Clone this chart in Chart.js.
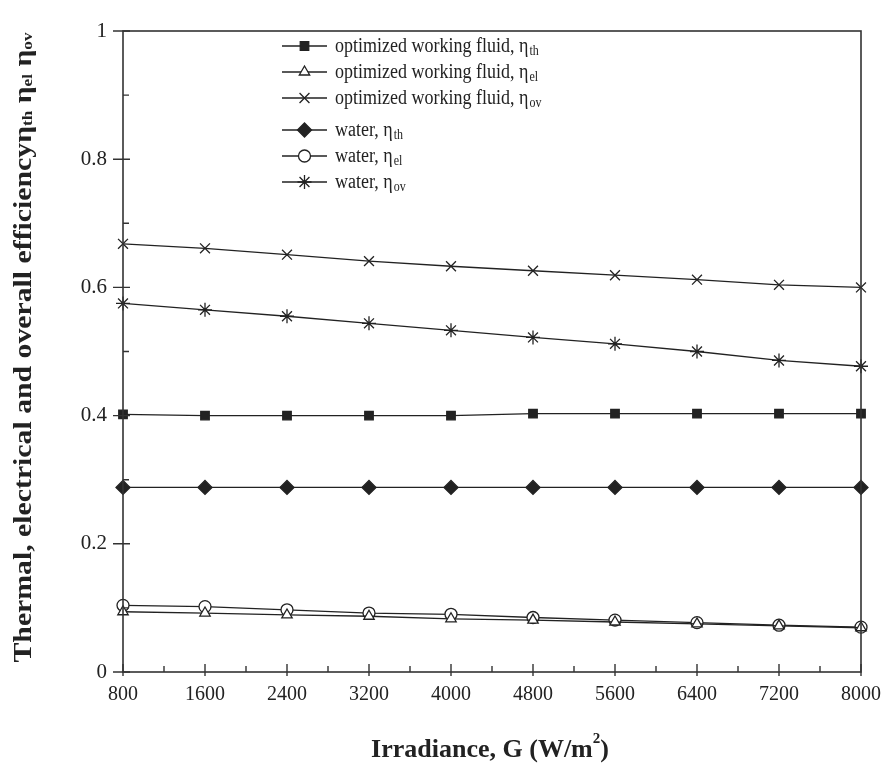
<!DOCTYPE html>
<html>
<head>
<meta charset="utf-8">
<script src="https://cdn.jsdelivr.net/npm/chart.js@4/dist/chart.umd.min.js"></script>
<style>
  html, body { margin: 0; padding: 0; background: #fff; }
  #wrap { width: 892px; height: 775px; position: relative; }
</style>
</head>
<body>
<div id="wrap"><canvas id="eff-chart"></canvas></div>
<script>
// irradiance values (W/m2)
var irradiance = [800, 1600, 2400, 3200, 4000, 4800, 5600, 6400, 7200, 8000]

// optimized working fluid
var opt_th = [0.402, 0.400, 0.400, 0.400, 0.400, 0.403, 0.403, 0.403, 0.403, 0.403]
var opt_el = [0.094, 0.092, 0.089, 0.087, 0.083, 0.081, 0.078, 0.075, 0.072, 0.069]
var opt_ov = [0.668, 0.661, 0.651, 0.641, 0.633, 0.626, 0.619, 0.612, 0.604, 0.600]

// water
var water_th = [0.288, 0.288, 0.288, 0.288, 0.288, 0.288, 0.288, 0.288, 0.288, 0.288]
var water_el = [0.104, 0.102, 0.097, 0.092, 0.090, 0.085, 0.081, 0.077, 0.073, 0.070]
var water_ov = [0.575, 0.565, 0.555, 0.544, 0.533, 0.522, 0.512, 0.500, 0.486, 0.477]

// legend text: main part + subscript
var legend_names = ['optimized working fluid, η', 'optimized working fluid, η', 'optimized working fluid, η',
                    'water, η', 'water, η', 'water, η']
var legend_subs = ['th', 'el', 'ov', 'th', 'el', 'ov']

var y_title = [['Thermal, electrical and overall efficiencyη', false], ['th', true], [' η', false], ['el', true], [' η', false], ['ov', true]]

var ink = '#222'
var serif = "'Liberation Serif', 'DejaVu Serif', serif"

function toPoints(ys) {
    return irradiance.map(function (x, i) { return { x: x, y: ys[i] } })
}

function makeSet(label, ys, style, radius, fill) {
    return {
        label: label,
        data: toPoints(ys),
        borderColor: ink,
        borderWidth: 1.3,
        pointStyle: style,
        pointRadius: radius,
        pointHoverRadius: radius,
        pointBackgroundColor: fill,
        pointBorderColor: ink,
        pointBorderWidth: 1.3,
        tension: 0,
        clip: false
    }
}

var datasets = [
    makeSet('opt th', opt_th, 'rect', 6, ink),
    makeSet('opt el', opt_el, 'triangle', 6, '#fff'),
    makeSet('opt ov', opt_ov, 'crossRot', 7, ink),
    makeSet('water th', water_th, 'rectRot', 7, ink),
    makeSet('water el', water_el, 'circle', 6, '#fff'),
    makeSet('water ov', water_ov, 'star', 7, ink)
]

// frame, inward ticks, legend and axis titles
var decorPlugin = {
    id: 'decor',
    afterDraw: function (chart) {
        var ctx = chart.ctx
        var a = chart.chartArea
        var xs = chart.scales.x
        var ys = chart.scales.y
        ctx.save()
        ctx.strokeStyle = '#333'
        ctx.lineWidth = 1.6
        ctx.strokeRect(a.left, a.top, a.right - a.left, a.bottom - a.top)

        ctx.lineWidth = 1.4
        ctx.beginPath()
        for (var v = 0; v <= 1.0001; v += 0.1) {
            var py = ys.getPixelForValue(v)
            var major = Math.round(v * 10) % 2 === 0
            if (major) {
                ctx.moveTo(a.left - 10, py); ctx.lineTo(a.left + 7, py)
            } else {
                ctx.moveTo(a.left, py); ctx.lineTo(a.left + 6, py)
            }
        }
        for (var g = 800; g <= 8000; g += 400) {
            var px = xs.getPixelForValue(g)
            if (g % 800 === 0) {
                ctx.moveTo(px, a.bottom + 4); ctx.lineTo(px, a.bottom - 8)
            } else {
                ctx.moveTo(px, a.bottom); ctx.lineTo(px, a.bottom - 6)
            }
        }
        ctx.stroke()

        // legend
        var lx0 = 282, lx1 = 327, tx = 335
        var rows = [46, 72, 98, 130, 156, 182]
        ctx.textBaseline = 'middle'
        ctx.textAlign = 'left'
        chart.data.datasets.forEach(function (ds, i) {
            var y = rows[i]
            ctx.strokeStyle = ink
            ctx.lineWidth = 1.3
            ctx.beginPath(); ctx.moveTo(lx0, y); ctx.lineTo(lx1, y); ctx.stroke()
            ctx.fillStyle = ds.pointBackgroundColor
            Chart.helpers.drawPoint(ctx, { pointStyle: ds.pointStyle, radius: ds.pointRadius, rotation: 0, borderWidth: 1.3 }, (lx0 + lx1) / 2, y)
            ctx.fillStyle = ink
            ctx.font = '18px ' + serif
            ctx.save()
            ctx.translate(tx, y)
            ctx.scale(1, 1.2)
            ctx.fillText(legend_names[i], 0, 0)
            var w = ctx.measureText(legend_names[i]).width
            ctx.font = '12px ' + serif
            ctx.fillText(legend_subs[i], w + 1, 4)
            ctx.restore()
        })

        // y title, rotated and fitted to the reference length
        var bigFont = 'bold 26px ' + serif, smallFont = 'bold 15px ' + serif
        var total = 0
        y_title.forEach(function (p) {
            ctx.font = p[1] ? smallFont : bigFont
            total += ctx.measureText(p[0]).width
        })
        var span = 630
        ctx.translate(24, (a.top + a.bottom) / 2 - 4)
        ctx.rotate(-Math.PI / 2)
        ctx.scale(span / total, 1)
        var cx = -total / 2
        y_title.forEach(function (p) {
            ctx.font = p[1] ? smallFont : bigFont
            ctx.fillText(p[0], cx, p[1] ? 4 : 0)
            cx += ctx.measureText(p[0]).width
        })
        ctx.setTransform(1, 0, 0, 1, 0, 0)

        // x title with superscript
        var t1 = 'Irradiance, G (W/m', t2 = '2', t3 = ')'
        ctx.font = 'bold 26px ' + serif
        var w1 = ctx.measureText(t1).width, w3 = ctx.measureText(t3).width
        ctx.font = 'bold 15px ' + serif
        var w2 = ctx.measureText(t2).width
        var sx = 490 - (w1 + w2 + w3) / 2
        var by = 750
        ctx.font = 'bold 26px ' + serif
        ctx.fillText(t1, sx, by)
        ctx.font = 'bold 15px ' + serif
        ctx.fillText(t2, sx + w1, by - 11)
        ctx.font = 'bold 26px ' + serif
        ctx.fillText(t3, sx + w1 + w2, by)
        ctx.restore()
    }
}

var config = {
    type: 'line',
    data: { datasets: datasets },
    options: {
        responsive: true,
        maintainAspectRatio: false,
        animation: false,
        layout: { padding: { left: 0, top: 31, right: 29, bottom: 0 } },
        plugins: { legend: { display: false }, tooltip: { enabled: false } },
        scales: {
            x: {
                type: 'linear',
                min: 800,
                max: 8000,
                border: { display: false },
                grid: { display: false, drawTicks: false },
                ticks: {
                    stepSize: 800,
                    padding: 11,
                    color: ink,
                    font: { family: serif, size: 20 },
                    maxRotation: 0,
                    callback: function (v) { return String(v) }
                },
                afterFit: function (s) { s.height = 103 }
            },
            y: {
                min: 0,
                max: 1,
                border: { display: false },
                grid: { display: false, drawTicks: false },
                ticks: {
                    stepSize: 0.2,
                    padding: 16,
                    color: ink,
                    font: { family: serif, size: 21 },
                    callback: function (v) { return String(+v.toFixed(1)) }
                },
                afterFit: function (s) { s.width = 123 }
            }
        }
    },
    plugins: [decorPlugin]
}

var eff_chart = new Chart(document.getElementById('eff-chart').getContext('2d'), config)
</script>
</body>
</html>
